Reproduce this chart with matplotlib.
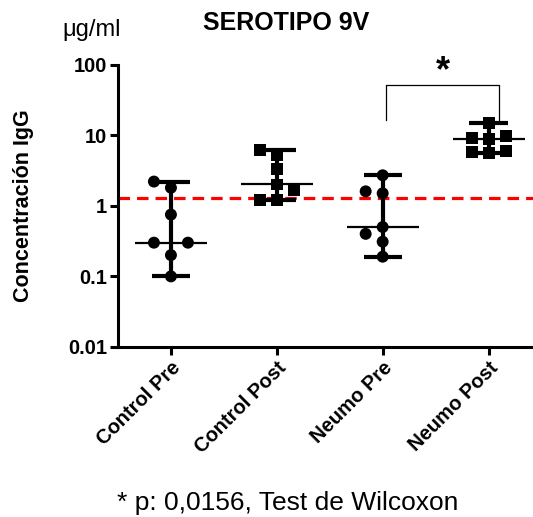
import numpy as np
import matplotlib
matplotlib.use("Agg")
import matplotlib.pyplot as plt

plt.rcParams['font.family'] = ['Liberation Sans', 'DejaVu Sans']

# ---- data ----
categories = ["Control Pre", "Control Post", "Neumo Pre", "Neumo Post"]
ctrl_pre = [0.10, 0.20, 0.30, 0.30, 0.75, 1.8, 2.2]
ctrl_post = [1.2, 1.2, 1.65, 2.0, 3.3, 5.2, 6.1]
neumo_pre = [0.19, 0.31, 0.40, 0.50, 1.5, 1.6, 2.7]
neumo_post = [5.5, 5.7, 6.0, 8.8, 9.2, 9.6, 14.7]
group_markers = ["o", "s", "o", "s"]
threshold = 1.3
ytick_vals = [0.01, 0.1, 1, 10, 100]
ytick_labels = ["0.01", "0.1", "1", "10", "100"]
sig_pair = (2, 3)
sig_label = "*"
title = "SEROTIPO 9V"
unit_label = "\u03bcg/ml"
ylabel = "Concentración IgG"
footnote = "* p: 0,0156, Test de Wilcoxon"

groups = [ctrl_pre, ctrl_post, neumo_pre, neumo_post]

W, H = 533, 517
fig = plt.figure(figsize=(W / 100, H / 100), dpi=100)
ax_left, ax_right, ax_bottom, ax_top = 118, 533, 347, 64.5
ax = fig.add_axes([ax_left / W, 1 - ax_bottom / H, (ax_right - ax_left) / W,
                   (ax_bottom - ax_top) / H])
ax.set_yscale("log")
ax.set_ylim(0.01, 100)
ax.set_xlim(-0.5, 3.42)

# pixels per decade / per category unit
ppd = (ax_bottom - ax_top) / 4.0
ppu = (ax_right - ax_left) / (3.42 + 0.5)


def swarm(vals, center, step_px=17.0, min_px=13.0):
    vals = np.asarray(vals, dtype=float)
    order = np.argsort(vals, kind="stable")
    placed = []
    xs = np.zeros(len(vals))
    cands = [0]
    for j in range(1, 6):
        cands += [-j, j]
    for i in order:
        y = np.log10(vals[i]) * ppd
        x = 0.0
        for c in cands:
            x = c * step_px
            if all((x - px) ** 2 + (y - py) ** 2 >= min_px ** 2 for px, py in placed):
                break
        placed.append((x, y))
        xs[i] = center + x / ppu
    return xs


# threshold line
ax.axhline(threshold, color="#ff0000", lw=2.3, linestyle=(0, (3.6, 2.2)), zorder=1)

for gi, (vals, mk) in enumerate(zip(groups, group_markers)):
    v = np.asarray(vals)
    med, lo, hi = np.median(v), v.min(), v.max()
    ax.vlines(gi, lo, hi, color="black", lw=3.0, zorder=2)
    ax.hlines([lo, hi], gi - 0.18, gi + 0.18, color="black", lw=3.0, zorder=2)
    ax.hlines(med, gi - 0.34, gi + 0.34, color="black", lw=1.6, zorder=2)
    xs = swarm(v, gi)
    ax.scatter(xs, v, marker=mk, s=74, color="black", edgecolors="none", zorder=3)

# significance bracket
x1, x2 = sig_pair[0] + 0.03, sig_pair[1] + 0.10
y_top, y_bot = 50.5, 16.4
ax.plot([x1, x1, x2, x2], [y_bot, y_top, y_top, y_bot], color="black", lw=0.9,
        clip_on=False, zorder=2)
ax.annotate(sig_label, xy=((x1 + x2) / 2, y_top), xytext=(0, 3),
            textcoords="offset points", ha="center", va="baseline",
            fontsize=26, fontweight="bold", annotation_clip=False)

# axes styling
for s in ["top", "right"]:
    ax.spines[s].set_visible(False)
for s in ["left", "bottom"]:
    ax.spines[s].set_linewidth(2.2)
ax.set_yticks(ytick_vals)
ax.set_yticklabels(ytick_labels, fontsize=14.5, fontweight="bold")
ax.yaxis.set_minor_locator(matplotlib.ticker.NullLocator())
ax.set_xticks(range(len(categories)))
ax.set_xticklabels(categories, rotation=45, ha="right", rotation_mode="anchor",
                   fontsize=14.5, fontweight="bold")
ax.tick_params(axis="both", length=6, width=2.2, pad=2)

# texts
fig.text(286 / W, 1 - 30 / H, title, ha="center", va="baseline",
         fontsize=18, fontweight="bold")
fig.text(62 / W, 1 - 36 / H, unit_label, ha="left", va="baseline", fontsize=17)
fig.text(24 / W, 1 - 206 / H, ylabel, rotation=90, ha="center", va="center",
         fontsize=15.5, fontweight="bold")
fig.text(288 / W, 1 - 510 / H, footnote, ha="center", va="baseline", fontsize=19)

fig.savefig("out.png", dpi=100)
